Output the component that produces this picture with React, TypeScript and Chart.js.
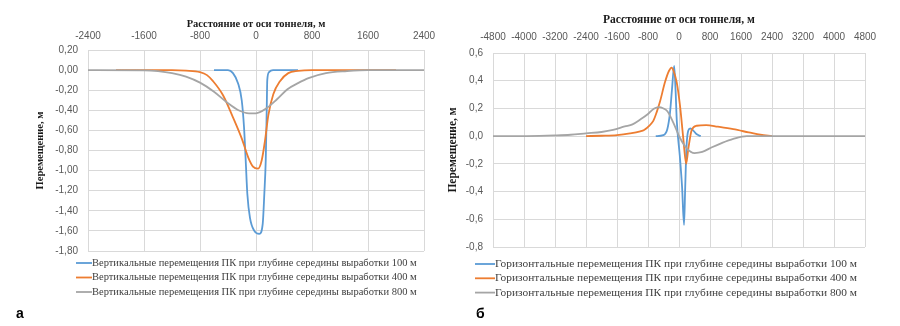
import React, { useEffect, useRef } from "react";
import { Chart, registerables } from "chart.js";

Chart.register(...registerables);

// ---------- shared ----------
const seriesColors = ["#5B9BD5", "#ED7D31", "#A5A5A5"];
const xAxisTitle = "Расстояние от оси тоннеля, м";
const yAxisTitle = "Перемещение, м";

// ---------- chart а: vertical displacements ----------
const vertLabels = [
  "Вертикальные перемещения ПК при глубине середины выработки 100 м",
  "Вертикальные перемещения ПК при глубине середины выработки 400 м",
  "Вертикальные перемещения ПК при глубине середины выработки 800 м",
];
const vert100X = [-600, -500, -400, -329, -257, -204, -171, -147, -124, -86, -24, 47, 96, 119, 139, 153, 161, 186, 243, 400, 600];
const vert100Y = [0, 0, 0, -0.03, -0.13, -0.3, -0.57, -0.9, -1.23, -1.47, -1.6, -1.63, -1.53, -1.23, -0.9, -0.4, -0.1, -0.02, 0, 0, 0];
const vert400X = [-2000, -1200, -1000, -800, -700, -614, -471, -329, -204, -110, -43, 30, 81, 129, 176, 247, 343, 461, 600, 800, 1200, 2000];
const vert400Y = [0, 0, -0.005, -0.02, -0.05, -0.11, -0.25, -0.47, -0.68, -0.87, -0.96, -0.98, -0.9, -0.7, -0.45, -0.24, -0.11, -0.03, -0.008, 0, 0, 0];
const vert800X = [-2400, -1600, -1400, -1200, -1000, -800, -600, -400, -250, -100, 0, 150, 300, 450, 600, 750, 1000, 1300, 1600, 2400];
const vert800Y = [0, -0.002, -0.01, -0.03, -0.065, -0.125, -0.215, -0.33, -0.4, -0.43, -0.43, -0.38, -0.29, -0.19, -0.13, -0.08, -0.03, -0.01, 0, 0];
const vertXMin = -2400;
const vertXMax = 2400;
const vertXStep = 800;
const vertYMin = -1.8;
const vertYMax = 0.2;
const vertYStep = 0.2;

// ---------- chart б: horizontal displacements ----------
const horLabels = [
  "Горизонтальные перемещения ПК при глубине середины выработки 100 м",
  "Горизонтальные перемещения ПК при глубине середины выработки 400 м",
  "Горизонтальные перемещения ПК при глубине середины выработки 800 м",
];
const hor100X = [-600, -405, -302, -232, -180, -125, -90, -55, 20, 80, 130, 160, 195, 240, 290, 370, 450, 560];
const hor100Y = [0, 0.007, 0.05, 0.17, 0.34, 0.507, 0.34, 0.1, -0.14, -0.37, -0.64, -0.37, -0.07, 0.04, 0.055, 0.04, 0.015, 0];
const hor400X = [-2400, -2000, -1600, -1265, -1000, -900, -750, -663, -580, -490, -361, -260, -190, -140, -60, 26, 112, 185, 241, 327, 456, 700, 1000, 1400, 1800, 2100, 2400];
const hor400Y = [0, 0.003, 0.008, 0.02, 0.035, 0.045, 0.08, 0.11, 0.17, 0.25, 0.39, 0.47, 0.495, 0.47, 0.39, 0.22, -0.02, -0.2, -0.09, 0.043, 0.075, 0.08, 0.068, 0.05, 0.027, 0.01, 0];
const hor800X = [-4800, -3600, -3200, -2800, -2400, -2000, -1700, -1400, -1200, -1000, -800, -650, -520, -400, -300, -150, 20, 200, 400, 600, 850, 1100, 1400, 1750, 4800];
const hor800Y = [0, 0.002, 0.005, 0.01, 0.02, 0.03, 0.045, 0.07, 0.085, 0.12, 0.16, 0.198, 0.21, 0.2, 0.18, 0.1, -0.01, -0.088, -0.122, -0.114, -0.08, -0.05, -0.02, 0, 0];
const horXMin = -4800;
const horXMax = 4800;
const horXStep = 800;
const horYMin = -0.8;
const horYMax = 0.6;
const horYStep = 0.2;

const toPoints = (xs: number[], ys: number[]) => xs.map((x, i) => ({ x, y: ys[i] }));

const lineLegend = {
  id: "lineLegend",
  afterDraw(chart: any, _args: any, opts: any) {
    const ctx = chart.ctx;
    ctx.save();
    ctx.font = `${opts.size}px ${opts.family}`;
    ctx.textBaseline = "middle";
    ctx.textAlign = "left";
    chart.data.datasets.forEach((ds: any, i: number) => {
      const y = opts.y + i * opts.rowGap;
      ctx.strokeStyle = ds.borderColor;
      ctx.lineWidth = opts.lineWidth;
      ctx.beginPath();
      ctx.moveTo(opts.x, y);
      ctx.lineTo(opts.x + opts.markerLength, y);
      ctx.stroke();
      ctx.fillStyle = opts.color;
      ctx.fillText(ds.label, opts.x + opts.markerLength + opts.gap, y);
    });
    ctx.restore();
  },
};

type Geo = {
  padLeft: number; padTop: number; padRight: number; padBottom: number;
  yAxisWidth: number; xAxisHeight: number;
  yTitlePad: number; xTitlePad: number; yTickPad: number; xTickPad: number;
  titleSize: number;
  legendX: number; legendY: number; legendGap: number; legendSize: number; markerLength: number;
};

function makeConfig(
  labels: string[],
  series: { x: number[]; y: number[] }[],
  xr: [number, number, number],
  yr: [number, number, number],
  yDecimals: number,
  g: Geo
): any {
  return {
    type: "line",
    data: {
      datasets: series.map((s, i) => ({
        label: labels[i],
        data: toPoints(s.x, s.y),
        borderColor: seriesColors[i],
        backgroundColor: seriesColors[i],
        borderWidth: 1.8,
        pointRadius: 0,
        fill: false,
        cubicInterpolationMode: "monotone",
        order: 3 - i,
      })),
    },
    plugins: [lineLegend],
    options: {
      responsive: false,
      animation: false,
      layout: { padding: { left: g.padLeft, top: g.padTop, right: g.padRight, bottom: g.padBottom } },
      plugins: {
        legend: { display: false },
        tooltip: { enabled: false },
        lineLegend: {
          x: g.legendX,
          y: g.legendY,
          rowGap: g.legendGap,
          size: g.legendSize,
          family: "'Liberation Serif', serif",
          color: "#404040",
          lineWidth: 1.8,
          markerLength: g.markerLength,
          gap: 0,
        },
      },
      scales: {
        x: {
          type: "linear",
          position: "top",
          min: xr[0],
          max: xr[1],
          ticks: {
            stepSize: xr[2],
            autoSkip: false,
            maxRotation: 0,
            padding: g.xTickPad,
            color: "#595959",
            font: { family: "'Liberation Sans', sans-serif", size: 10 },
            callback: (v: number) => String(Math.round(v)),
          },
          grid: { color: "#D9D9D9", drawTicks: false, lineWidth: 1 },
          border: { color: "#D9D9D9" },
          title: {
            display: true,
            text: xAxisTitle,
            color: "#1a1a1a",
            font: { family: "'Liberation Serif', serif", size: g.titleSize, weight: "bold" },
            padding: { top: g.xTitlePad, bottom: 0 },
          },
          afterFit: (s: any) => {
            s.height = g.xAxisHeight;
            s.paddingLeft = 0;
            s.paddingRight = 0;
          },
        },
        y: {
          type: "linear",
          min: yr[0],
          max: yr[1],
          ticks: {
            stepSize: yr[2],
            autoSkip: false,
            padding: g.yTickPad,
            color: "#595959",
            font: { family: "'Liberation Sans', sans-serif", size: 10 },
            callback: (v: number) => {
              const n = Math.abs(v) < 1e-9 ? 0 : v;
              return n.toFixed(yDecimals).replace(".", ",");
            },
          },
          grid: { color: "#D9D9D9", drawTicks: false, lineWidth: 1 },
          border: { color: "#D9D9D9" },
          title: {
            display: true,
            text: yAxisTitle,
            color: "#1a1a1a",
            font: { family: "'Liberation Serif', serif", size: g.titleSize, weight: "bold" },
            padding: { top: g.yTitlePad, bottom: 0 },
          },
          afterFit: (s: any) => {
            s.width = g.yAxisWidth;
            s.paddingTop = 0;
            s.paddingBottom = 0;
          },
        },
      },
    },
  };
}

function ChartCanvas({ config, left, width, height }: { config: any; left: number; width: number; height: number }) {
  const ref = useRef<HTMLCanvasElement>(null);
  useEffect(() => {
    const chart = new Chart(ref.current as HTMLCanvasElement, config);
    return () => chart.destroy();
  }, [config]);
  return (
    <canvas
      ref={ref}
      width={width}
      height={height}
      style={{ position: "absolute", left, top: 0, width, height }}
    />
  );
}

const vertConfig = makeConfig(
  vertLabels,
  [
    { x: vert100X, y: vert100Y },
    { x: vert400X, y: vert400Y },
    { x: vert800X, y: vert800Y },
  ],
  [vertXMin, vertXMax, vertXStep],
  [vertYMin, vertYMax, vertYStep],
  2,
  {
    padLeft: 30, padTop: 14, padRight: 26, padBottom: 75,
    yAxisWidth: 58, xAxisHeight: 36,
    yTitlePad: 4, xTitlePad: 3.5, yTickPad: 10, xTickPad: 8,
    titleSize: 10.5,
    legendX: 76, legendY: 263, legendGap: 14.5, legendSize: 10.5, markerLength: 16,
  }
);

const horConfig = makeConfig(
  horLabels,
  [
    { x: hor100X, y: hor100Y },
    { x: hor400X, y: hor400Y },
    { x: hor800X, y: hor800Y },
  ],
  [horXMin, horXMax, horXStep],
  [horYMin, horYMax, horYStep],
  1,
  {
    padLeft: 0, padTop: 10, padRight: 35, padBottom: 79,
    yAxisWidth: 49, xAxisHeight: 43,
    yTitlePad: 2, xTitlePad: 3.5, yTickPad: 10, xTickPad: 9.5,
    titleSize: 11.5,
    legendX: 31, legendY: 264, legendGap: 14.3, legendSize: 11.4, markerLength: 20,
  }
);

export default function App() {
  return (
    <div style={{ position: "absolute", left: 0, top: 0, width: 900, height: 326, background: "#fff", overflow: "hidden" }}>
      <ChartCanvas config={vertConfig} left={0} width={450} height={326} />
      <ChartCanvas config={horConfig} left={444} width={456} height={326} />
      <span style={{ position: "absolute", left: 16, top: 305, font: "bold 14px 'Liberation Sans', sans-serif", color: "#000" }}>а</span>
      <span style={{ position: "absolute", left: 476, top: 305, font: "bold 14px 'Liberation Sans', sans-serif", color: "#000" }}>б</span>
    </div>
  );
}
